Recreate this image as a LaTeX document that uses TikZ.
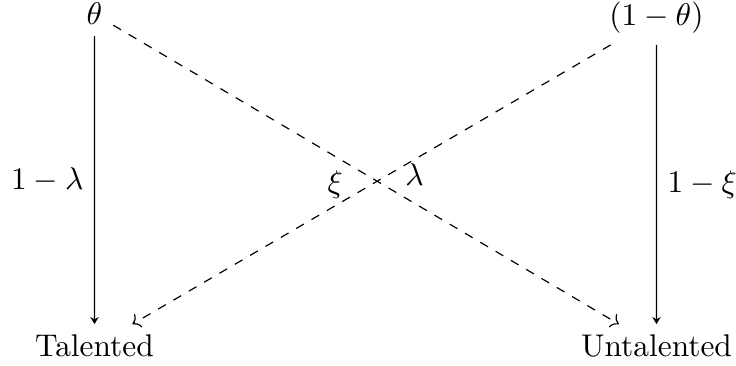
\documentclass[tikz,border=0pt]{standalone}
\usetikzlibrary{arrows.meta}
\begin{document}
\begin{tikzpicture}[x=0.3378pt,y=-0.3378pt,
  every node/.style={scale=1.06},
  solidarr/.style={-{Stealth[length=2.4pt,width=2.8pt]}},
  dasharr/.style={->,dashed}]
\useasboundingbox (0,0) rectangle (736,366);
\node[anchor=base] (theta) at (94.5,25) {$\theta$};
\node[anchor=base] (ntheta) at (656.5,26) {$(1-\theta)$};
\node[anchor=base] (tal) at (94.5,357) {Talented};
\node[anchor=base] (untal) at (656.5,357) {Untalented};
\draw[solidarr] (theta) -- node[left] {$1-\lambda$} (tal);
\draw[solidarr] (ntheta) -- node[right] {$1-\xi$} (untal);
\draw[dasharr] (theta) -- node[right=9pt] {$\lambda$} (untal);
\draw[dasharr] (ntheta) -- node[left=5.6pt] {$\xi$} (tal);
\end{tikzpicture}
\end{document}
